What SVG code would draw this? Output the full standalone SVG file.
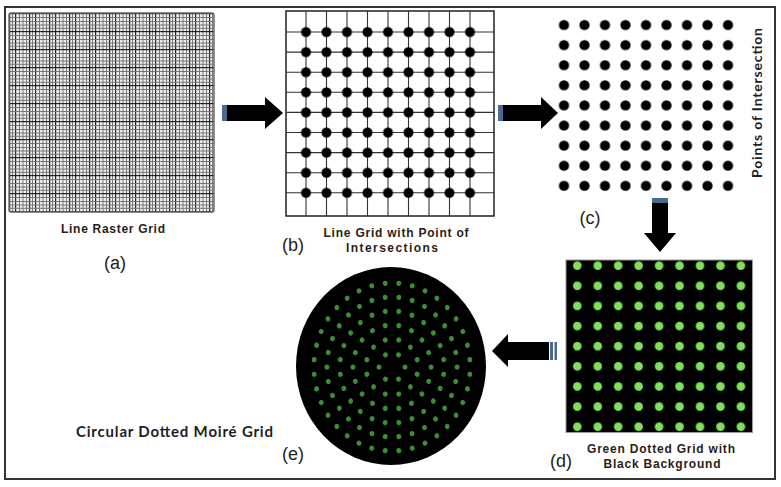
<svg xmlns="http://www.w3.org/2000/svg" xmlns:xlink="http://www.w3.org/1999/xlink" width="781" height="487" viewBox="0 0 781 487">
<style>
.lbl{font-family:"Liberation Sans",Arial,sans-serif;font-weight:bold;font-size:12px;fill:#2b1d14;text-anchor:middle}
.tag{font-family:"Liberation Sans",Arial,sans-serif;font-size:18px;fill:#222;text-anchor:middle}
.cal{font-family:Lato,"Open Sans",sans-serif;font-weight:bold;fill:#1e1e1e;text-anchor:middle}
.arrow{fill:#000}
.stripe{fill:#4a6b8f}
</style>
<defs>
<pattern id="raster" patternUnits="userSpaceOnUse" x="9" y="13" width="20" height="18">
<rect width="20" height="18" fill="#eeeeee"/>
<path d="M0.6,0V18M6.6,0V18" stroke="#222" stroke-width="1.2"/>
<path d="M10.5,0V18M14,0V18M17.5,0V18M3.5,0V18" stroke="#7a7a7a" stroke-width="1"/>
<path d="M0,0.6H20" stroke="#222" stroke-width="1.2"/>
<path d="M0,4.5H20M0,8.5H20M0,12H20M0,15.3H20" stroke="#757575" stroke-width="1"/>
</pattern>
<pattern id="dotsB" patternUnits="userSpaceOnUse" x="295.75" y="21.95" width="20.5" height="20.1">
<circle cx="10.25" cy="10.05" r="5" fill="#000"/>
</pattern>
<pattern id="dotsC" patternUnits="userSpaceOnUse" x="553.75" y="14.95" width="20.5" height="20.1">
<circle cx="10.25" cy="10.05" r="5.1" fill="#000"/>
</pattern>
<pattern id="dotsD" patternUnits="userSpaceOnUse" x="567.075" y="255.635" width="20.45" height="20.13">
<circle cx="10.225" cy="10.065" r="4.3" fill="#7fe05c"/>
</pattern>
<circle id="gd" r="2.6" fill="#3a8f35"/>
<g id="sector">
<use xlink:href="#gd" transform="rotate(0)translate(14)"/>
<use xlink:href="#gd" transform="rotate(15)translate(28)"/>
<use xlink:href="#gd" transform="rotate(45)translate(28)"/>
<use xlink:href="#gd" transform="rotate(0)translate(42)"/>
<use xlink:href="#gd" transform="rotate(20)translate(42)"/>
<use xlink:href="#gd" transform="rotate(40)translate(42)"/>
<use xlink:href="#gd" transform="rotate(7.5)translate(56)"/>
<use xlink:href="#gd" transform="rotate(22.5)translate(56)"/>
<use xlink:href="#gd" transform="rotate(37.5)translate(56)"/>
<use xlink:href="#gd" transform="rotate(52.5)translate(56)"/>
<use xlink:href="#gd" transform="rotate(0)translate(70)"/>
<use xlink:href="#gd" transform="rotate(12)translate(70)"/>
<use xlink:href="#gd" transform="rotate(24)translate(70)"/>
<use xlink:href="#gd" transform="rotate(36)translate(70)"/>
<use xlink:href="#gd" transform="rotate(48)translate(70)"/>
<use xlink:href="#gd" transform="rotate(5)translate(84)"/>
<use xlink:href="#gd" transform="rotate(15)translate(84)"/>
<use xlink:href="#gd" transform="rotate(25)translate(84)"/>
<use xlink:href="#gd" transform="rotate(35)translate(84)"/>
<use xlink:href="#gd" transform="rotate(45)translate(84)"/>
<use xlink:href="#gd" transform="rotate(55)translate(84)"/>
</g>
</defs>
<rect width="781" height="487" fill="#fff"/>
<rect x="5" y="7" width="770" height="472" fill="none" stroke="#333" stroke-width="2"/>

<g id="node-a">
<rect x="9" y="13" width="205" height="199" rx="2" fill="url(#raster)" stroke="#666" stroke-width="1.4"/>
<text class="lbl" x="113" y="233" textLength="104" lengthAdjust="spacing">Line Raster Grid</text>
<text class="tag" x="115" y="269">(a)</text>
</g>

<g id="node-b">
<rect x="286" y="11" width="208" height="205" fill="#fff" stroke="#222" stroke-width="1.5"/>
<path d="M306,11V216M326.5,11V216M347,11V216M367.5,11V216M388,11V216M408.5,11V216M429,11V216M449.5,11V216M470,11V216M286,32H494M286,52.1H494M286,72.2H494M286,92.3H494M286,112.4H494M286,132.5H494M286,152.6H494M286,172.7H494M286,192.8H494" stroke="#333" stroke-width="1.1" fill="none"/>
<rect x="295.75" y="21.95" width="184.5" height="180.9" fill="url(#dotsB)"/>
<text class="lbl" x="396" y="237" textLength="145" lengthAdjust="spacing">Line Grid with Point of</text>
<text class="lbl" x="392" y="252" textLength="92" lengthAdjust="spacing">Intersections</text>
<text class="tag" x="293" y="251">(b)</text>
</g>

<g id="node-c">
<rect x="553.75" y="14.95" width="184.5" height="180.9" fill="url(#dotsC)"/>
<text class="cal" font-size="14" transform="translate(761.5,103) rotate(-90)" textLength="150" lengthAdjust="spacing">Points of Intersection</text>
<text class="tag" x="590" y="224">(c)</text>
</g>

<g id="node-d">
<rect x="566" y="260" width="186.5" height="172.5" fill="#000" stroke="#999" stroke-width="1"/>
<rect x="566" y="260" width="186.5" height="172.5" fill="url(#dotsD)"/>
<text class="lbl" x="661" y="453" textLength="148" lengthAdjust="spacing">Green Dotted Grid with</text>
<text class="lbl" x="662" y="468" textLength="117" lengthAdjust="spacing">Black Background</text>
<text class="tag" x="561" y="467">(d)</text>
</g>

<g id="node-e">
<ellipse cx="391" cy="366" rx="95" ry="99" fill="#000"/>
<g transform="translate(392,367) scale(0.93,1)">
<use xlink:href="#sector"/>
<use xlink:href="#sector" transform="rotate(60)"/>
<use xlink:href="#sector" transform="rotate(120)"/>
<use xlink:href="#sector" transform="rotate(180)"/>
<use xlink:href="#sector" transform="rotate(240)"/>
<use xlink:href="#sector" transform="rotate(300)"/>
</g>
<text class="cal" font-size="15" x="174.5" y="437" textLength="197" lengthAdjust="spacing">Circular Dotted Moiré Grid</text>
<text class="tag" x="293" y="460">(e)</text>
</g>

<g id="connectors">
<rect class="stripe" x="222" y="105" width="5" height="16"/>
<path class="arrow" d="M227,105H265V97L283,113L265,129V121H227Z"/>
<rect class="stripe" x="498" y="105" width="5" height="16"/>
<path class="arrow" d="M503,105H541V97L558,113L541,129V121H503Z"/>
<rect class="stripe" x="652" y="198" width="16" height="5"/>
<path class="arrow" d="M652,203V233H644L660,252L676,233H668V203Z"/>
<path class="arrow" d="M492,351L508,334V342H549V360H508V367Z"/>
<rect class="stripe" x="550" y="342" width="3" height="18"/>
<rect class="stripe" x="554.5" y="342" width="2.5" height="18"/>
</g>
</svg>
